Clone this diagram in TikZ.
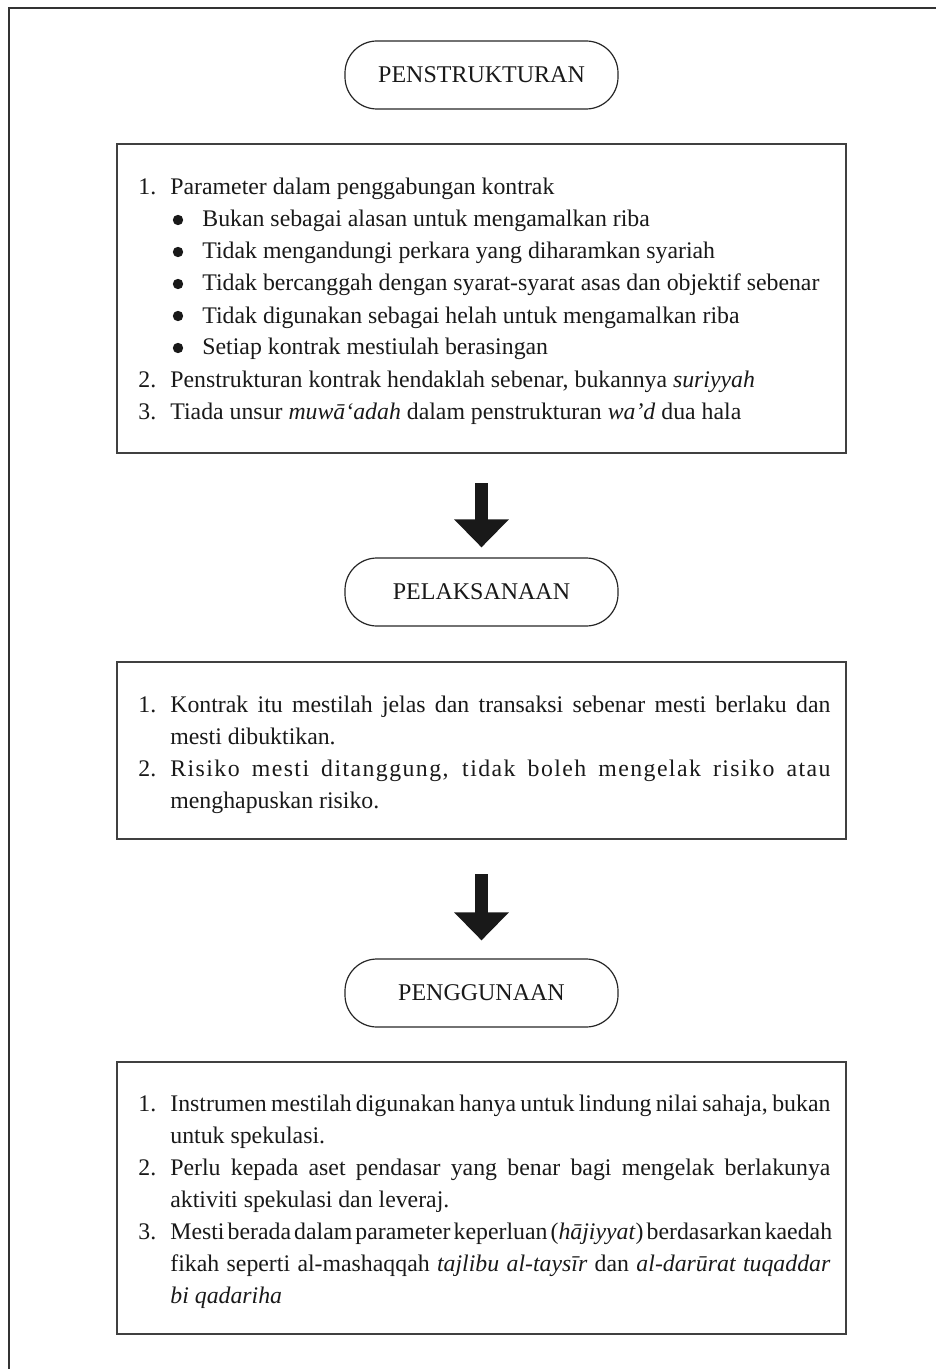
\documentclass[tikz,border=0pt]{standalone}
\usepackage{fontspec}
\setmainfont{Liberation Serif}
\usetikzlibrary{arrows.meta}
\newcommand\numlab[1]{\makebox[16pt][l]{#1}}
\newcommand\jline[1]{\makebox[330pt][s]{#1}}
\newcommand\boxtextfont{\fontsize{11.9}{16}\selectfont\spaceskip 0.25em plus 0.25em minus 0.12em\relax}
\begin{document}
\begin{tikzpicture}[x=0.5pt,y=-0.5pt,
  txt/.style={anchor=base west, inner sep=0pt, text=black!90, font=\boxtextfont,
    text height=8pt, text depth=2.5pt},
  dot/.style={circle, fill=black!90, inner sep=0pt, minimum size=5.2pt},
  term/.style={draw=black!85, line width=0.6pt, rounded corners=16pt,
    minimum width=136.5pt, minimum height=34pt, inner sep=0pt, text=black!90,
    font=\fontsize{12}{14}\selectfont},
  panel/.style={draw=black!75, line width=1pt, minimum width=364.5pt, inner sep=0pt},
  bigarrow/.style={line width=6.5pt, draw=black!90, -{Triangle[width=26.5pt,length=14pt]}}]
\useasboundingbox (0,0) rectangle (936,1369);
% page frame
\draw[black!80, line width=1pt] (9,1369) -- (9,8) -- (936,8);

% stage 1
\node[term] (t1) at (481.5,75) {PENSTRUKTURAN};
\node[panel, minimum height=154.5pt] (b1) at (481.5,298.5) {};
\node[txt] (b1l1) at (138,195) {\numlab{1.}Parameter dalam penggabungan kontrak};
\node[dot] (d1) at (178,220) {};
\node[txt] (b1l2) at (202,227) {Bukan sebagai alasan untuk mengamalkan riba};
\node[dot] (d2) at (178,252) {};
\node[txt] (b1l3) at (202,259) {Tidak mengandungi perkara yang diharamkan syariah};
\node[dot] (d3) at (178,284) {};
\node[txt] (b1l4) at (202,291) {Tidak bercanggah dengan syarat-syarat asas dan objektif sebenar};
\node[dot] (d4) at (178,316) {};
\node[txt] (b1l5) at (202,323) {Tidak digunakan sebagai helah untuk mengamalkan riba};
\node[dot] (d5) at (178,348) {};
\node[txt] (b1l6) at (202,355) {Setiap kontrak mestiulah berasingan};
\node[txt] (b1l7) at (138,387) {\numlab{2.}Penstrukturan kontrak hendaklah sebenar, bukannya \textit{suriyyah}};
\node[txt] (b1l8) at (138,419) {\numlab{3.}Tiada unsur \textit{muwā‘adah} dalam penstrukturan \textit{wa’d} dua hala};

% stage 2
\node[term] (t2) at (481.5,592) {PELAKSANAAN};
\node[panel, minimum height=88.5pt] (b2) at (481.5,750.5) {};
\node[txt] (b2l1) at (138,712) {\numlab{1.}\jline{Kontrak itu mestilah jelas dan transaksi sebenar mesti berlaku dan}};
\node[txt] (b2l2) at (170,744) {mesti dibuktikan.};
\node[txt] (b2l3) at (138,776) {\numlab{2.}\jline{\addfontfeature{LetterSpace=6}Risiko mesti ditanggung, tidak boleh mengelak risiko atau}};
\node[txt] (b2l4) at (170,808) {menghapuskan risiko.};

% stage 3
\node[term] (t3) at (481.5,993) {PENGGUNAAN};
\node[panel, minimum height=136pt] (b3) at (481.5,1198) {};
\node[txt] (b3l1) at (138,1111) {\numlab{1.}\jline{Instrumen mestilah digunakan hanya untuk lindung nilai sahaja, bukan}};
\node[txt] (b3l2) at (170,1143) {untuk spekulasi.};
\node[txt] (b3l3) at (138,1175) {\numlab{2.}\jline{Perlu kepada aset pendasar yang benar bagi mengelak berlakunya}};
\node[txt] (b3l4) at (170,1207) {aktiviti spekulasi dan leveraj.};
\node[txt] (b3l5) at (138,1239) {\numlab{3.}\jline{Mesti berada dalam parameter keperluan (\textit{hājiyyat}) berdasarkan kaedah}};
\node[txt] (b3l6) at (170,1271) {\jline{fikah seperti al-mashaqqah \textit{tajlibu al-taysīr} dan \textit{al-darūrat tuqaddar}}};
\node[txt] (b3l7) at (170,1303) {\textit{bi qadariha}};

% arrows
\draw[bigarrow] ([yshift=-14.5pt]b1.south) -- ([yshift=5pt]t2.north);
\draw[bigarrow] ([yshift=-17pt]b2.south) -- ([yshift=9pt]t3.north);
\end{tikzpicture}
\end{document}
